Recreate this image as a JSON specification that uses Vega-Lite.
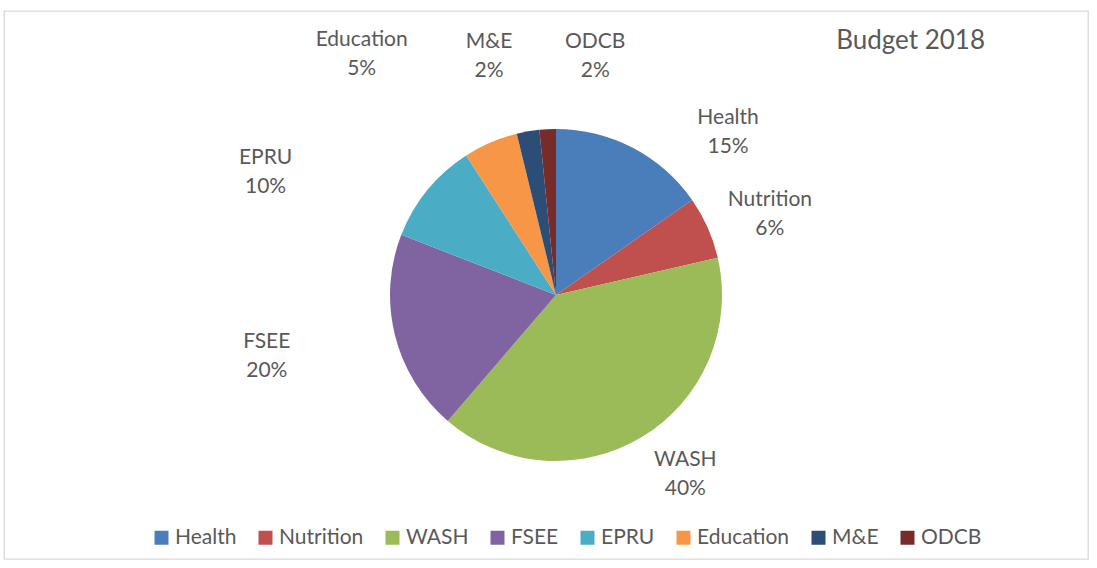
{
  "$schema": "https://vega.github.io/schema/vega-lite/v6.json",
  "width": 1084,
  "height": 548,
  "autosize": "none",
  "padding": {"left": 4, "top": 11, "right": 9, "bottom": 9},
  "background": "#ffffff",
  "view": {"stroke": "#d9d9d9", "strokeWidth": 1.3},
  "config": {"view": {"stroke": "#d9d9d9", "strokeWidth": 1.3}, "font": "Lato"},
  "title": {
    "text": "Budget 2018",
    "anchor": "end",
    "frame": "group",
    "orient": "top",
    "baseline": "top",
    "offset": 0,
    "dx": -103,
    "dy": 82,
    "fontSize": 26,
    "font": "Lato",
    "fontWeight": "normal",
    "color": "#595959"
  },
  "data": {
    "values": [
      {"category": "Health", "value": 15.3, "rank": 1, "label": "Health\n15%"},
      {"category": "Nutrition", "value": 6.1, "rank": 2, "label": "Nutrition\n6%"},
      {"category": "WASH", "value": 39.9, "rank": 3, "label": "WASH\n40%"},
      {"category": "FSEE", "value": 19.6, "rank": 4, "label": "FSEE\n20%"},
      {"category": "EPRU", "value": 10.0, "rank": 5, "label": "EPRU\n10%"},
      {"category": "Education", "value": 5.3, "rank": 6, "label": "Education\n5%"},
      {"category": "M&E", "value": 2.2, "rank": 7, "label": "M&E\n2%"},
      {"category": "ODCB", "value": 1.6, "rank": 8, "label": "ODCB\n2%"}
    ]
  },
  "encoding": {
    "theta": {"field": "value", "type": "quantitative", "stack": true},
    "order": {"field": "rank", "type": "quantitative"},
    "detail": {"field": "category", "type": "nominal"}
  },
  "layer": [
    {
      "mark": {"type": "arc", "outerRadius": 166, "x": {"expr": "width/2 + 10"}, "y": {"expr": "height/2 + 10"}},
      "encoding": {
        "color": {
          "field": "category",
          "type": "nominal",
          "sort": ["Health", "Nutrition", "WASH", "FSEE", "EPRU", "Education", "M&E", "ODCB"],
          "scale": {
            "domain": ["Health", "Nutrition", "WASH", "FSEE", "EPRU", "Education", "M&E", "ODCB"],
            "range": ["#4a7ebb", "#c0504d", "#9bbb59", "#8064a2", "#4bacc6", "#f79646", "#2c4d75", "#772c2a"]
          },
          "legend": {
            "orient": "none",
            "legendX": 147,
            "legendY": 516,
            "direction": "horizontal",
            "columns": 8,
            "title": null,
            "symbolType": "square",
            "symbolSize": 196,
            "symbolStrokeWidth": 0,
            "labelFontSize": 21,
            "labelFont": "Lato",
            "labelColor": "#595959",
            "labelOffset": 3,
            "labelLimit": 0,
            "columnPadding": 18,
            "padding": 0
          }
        }
      }
    },
    {
      "mark": {"type": "text", "x": {"expr": "width/2 + 10"}, "y": {"expr": "height/2 + 10"}, "radius": 247, "thetaOffset": 0.29, "align": "center", "baseline": "middle", "fontSize": 21, "lineHeight": 29, "color": "#595959", "lineBreak": "\n"},
      "encoding": {
        "text": {"field": "label", "type": "nominal"},
        "opacity": {"condition": {"test": "datum.category === 'Health'", "value": 1}, "value": 0}
      }
    },
    {
      "mark": {"type": "text", "x": {"expr": "width/2 + 10"}, "y": {"expr": "height/2 + 10"}, "radius": 256, "thetaOffset": 0.204, "align": "center", "baseline": "middle", "fontSize": 21, "lineHeight": 29, "color": "#595959", "lineBreak": "\n"},
      "encoding": {
        "text": {"field": "label", "type": "nominal"},
        "opacity": {"condition": {"test": "datum.category === 'ODCB'", "value": 1}, "value": 0}
      }
    },
    {
      "mark": {"type": "text", "x": {"expr": "width/2 + 10"}, "y": {"expr": "height/2 + 10"}, "radius": 262, "thetaOffset": -0.089, "align": "center", "baseline": "middle", "fontSize": 21, "lineHeight": 29, "color": "#595959", "lineBreak": "\n"},
      "encoding": {
        "text": {"field": "label", "type": "nominal"},
        "opacity": {"condition": {"test": "datum.category === 'M&E'", "value": 1}, "value": 0}
      }
    },
    {
      "mark": {"type": "text", "x": {"expr": "width/2 + 10"}, "y": {"expr": "height/2 + 10"}, "radius": 321, "thetaOffset": -0.245, "align": "center", "baseline": "middle", "fontSize": 21, "lineHeight": 29, "color": "#595959", "lineBreak": "\n"},
      "encoding": {
        "text": {"field": "label", "type": "nominal"},
        "opacity": {"condition": {"test": "datum.category === 'EPRU' || datum.category === 'Education'", "value": 1}, "value": 0}
      }
    },
    {
      "mark": {"type": "text", "x": {"expr": "width/2 + 10"}, "y": {"expr": "height/2 + 10"}, "radius": 293, "thetaOffset": 0.084, "align": "center", "baseline": "middle", "fontSize": 21, "lineHeight": 29, "color": "#595959", "lineBreak": "\n"},
      "encoding": {
        "text": {"field": "label", "type": "nominal"},
        "opacity": {"condition": {"test": "datum.category === 'FSEE'", "value": 1}, "value": 0}
      }
    },
    {
      "mark": {"type": "text", "x": {"expr": "width/2 + 10"}, "y": {"expr": "height/2 + 10"}, "radius": 210, "thetaOffset": -0.12, "align": "center", "baseline": "middle", "fontSize": 21, "lineHeight": 29, "color": "#595959", "lineBreak": "\n"},
      "encoding": {
        "text": {"field": "label", "type": "nominal"},
        "opacity": {"condition": {"test": "datum.category === 'WASH'", "value": 1}, "value": 0}
      }
    },
    {
      "mark": {"type": "text", "x": {"expr": "width/2 + 10"}, "y": {"expr": "height/2 + 10"}, "radius": 234, "align": "center", "baseline": "middle", "fontSize": 21, "lineHeight": 29, "color": "#595959", "lineBreak": "\n"},
      "encoding": {
        "text": {"field": "label", "type": "nominal"},
        "opacity": {"condition": {"test": "datum.category === 'Nutrition'", "value": 1}, "value": 0}
      }
    }
  ]
}
